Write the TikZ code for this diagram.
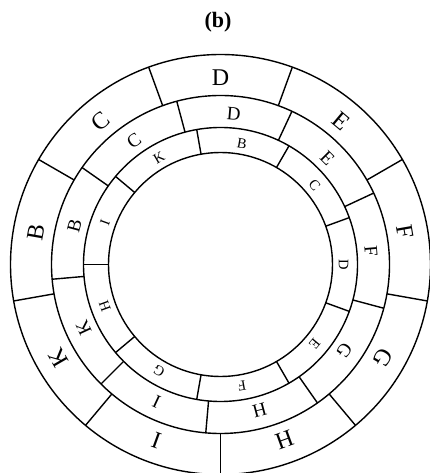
\documentclass[tikz,border=0pt]{standalone}
\usepackage{fontspec}
\setmainfont{Liberation Serif}
\begin{document}
\begin{tikzpicture}[x=1pt,y=1pt,
  ringline/.style={draw, line width=1.4pt},
  lblout/.style={font=\fontsize{24}{24}\selectfont, inner sep=0pt},
  lblmid/.style={font=\fontsize{19}{19}\selectfont, inner sep=0pt},
  lblin/.style={font=\fontsize{14.5}{14.5}\selectfont, inner sep=0pt}]
\useasboundingbox (-220.5,-208.5) rectangle (209.5,264.5);
\node[font=\bfseries\fontsize{22}{22}\selectfont] (title) at (-2.5,242.5) {(b)};
% rings
\foreach \r in {112,137,169,210} \draw[ringline] (0,0) circle (\r);
% dividers
\foreach \a in {150,110,...,-170} \draw[ringline] (\a:169) -- (\a:210);
\foreach \a in {145,105,...,-175} \draw[ringline] (\a:137) -- (\a:169);
\foreach \a in {140,100,...,-180} \draw[ringline] (\a:112) -- (\a:137);
% labels
\foreach \a/\l in {90/D,50/E,10/F,-30/G,-70/H,-110/I,-150/K,170/B,130/C}
  \node[lblout, rotate=\a-90] (o\l) at (\a:187) {\l};
\foreach \a/\l in {85/D,45/E,5/F,-35/G,-75/H,-115/I,-155/K,165/B,125/C}
  \node[lblmid, rotate=\a-90] (m\l) at (\a:151) {\l};
\foreach \a/\l in {80/B,40/C,0/D,-40/E,-80/F,-120/G,-160/H,160/I,120/K}
  \node[lblin, rotate=\a-90] (n\l) at (\a:123) {\l};
\end{tikzpicture}
\end{document}
